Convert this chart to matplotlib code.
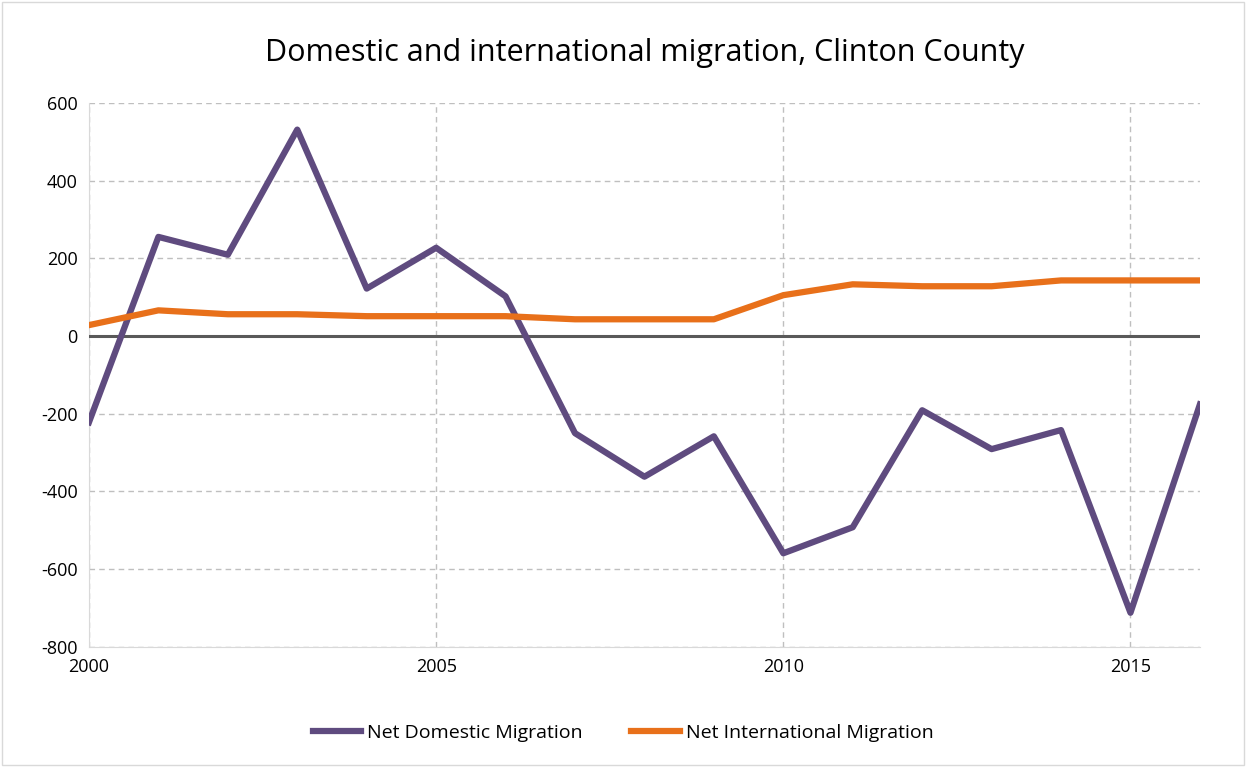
import matplotlib
matplotlib.use("Agg")
import matplotlib.pyplot as plt

years = list(range(2000, 2017))
domestic = [-222, 255, 209, 531, 122, 227, 102, -250, -362, -258, -559, -492, -191, -291, -242, -712, -176]
international = [28, 66, 56, 56, 51, 51, 51, 43, 43, 43, 105, 133, 128, 128, 143, 143, 143]
yticks = [-800, -600, -400, -200, 0, 200, 400, 600]
xticks = [2000, 2005, 2010, 2015]

plt.rcParams['font.family'] = ['Open Sans', 'DejaVu Sans']
plt.rcParams['axes.unicode_minus'] = False
fig = plt.figure(figsize=(12.46, 7.67), dpi=100)
fig.patches.append(plt.Rectangle((0.002, 0.002), 0.996, 0.996, transform=fig.transFigure,
                                 fill=False, edgecolor='#d9d9d9', lw=1))
ax = fig.add_axes([0.0714, 0.1565, 0.8916, 0.7095])
ax.plot(years, domestic, color='#5f4b7f', lw=4.5, label='Net Domestic Migration', zorder=4)
ax.plot(years, international, color='#e8701a', lw=4.5, label='Net International Migration', zorder=4)
ax.axhline(0, color='#595959', lw=2.2, zorder=3)
ax.set_xlim(2000, 2016)
ax.set_ylim(-800, 600)
ax.set_yticks(yticks)
ax.set_xticks(xticks)
ax.set_axisbelow(True)
ax.grid(True, color='#bfbfbf', ls=(0, (4, 3)), lw=1)
for s in ['top', 'right']:
    ax.spines[s].set_visible(False)
ax.spines['left'].set_color('#d9d9d9')
ax.spines['bottom'].set_color('#d9d9d9')
ax.tick_params(length=0, labelsize=13, colors='#000000', pad=8)
ax.set_title('Domestic and international migration, Clinton County', fontsize=22, pad=30)
fig.legend(loc='lower center', bbox_to_anchor=(0.5, 0.01), ncol=2, frameon=False,
           fontsize=14, handlelength=2.5, handletextpad=0.3, columnspacing=2.5)
fig.savefig('out.png', dpi=100)
